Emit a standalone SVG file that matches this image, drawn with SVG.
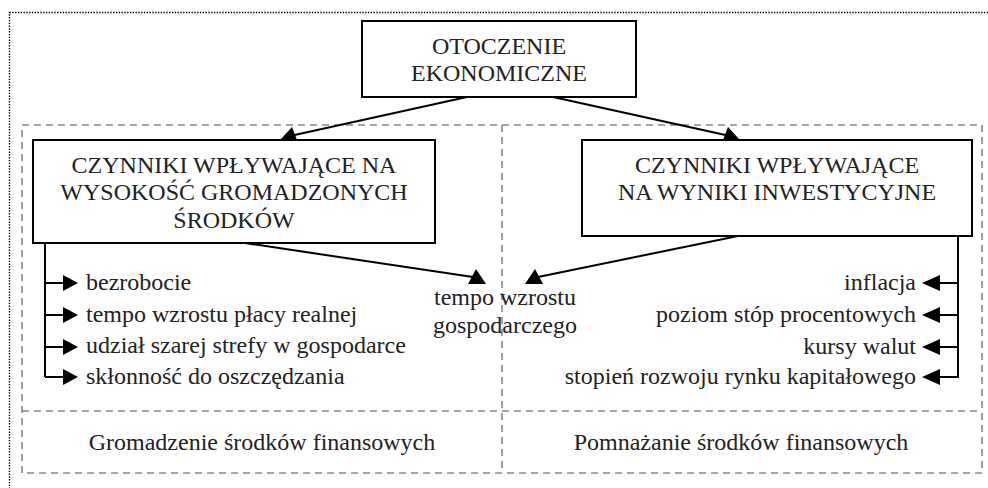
<svg xmlns="http://www.w3.org/2000/svg" width="988" height="488" viewBox="0 0 988 488">
<style>
text{font-family:"Liberation Serif","Times New Roman",serif;font-size:24px;fill:#222}
.box{fill:#fff;stroke:#000;stroke-width:2}
.dash{fill:none;stroke:#888;stroke-width:1.6;stroke-dasharray:7 5}
.dot{fill:none;stroke:#000;stroke-width:1.4;stroke-dasharray:1.4 1.4}
.ln{fill:none;stroke:#000;stroke-width:2}
.ah{fill:#000}
</style>
<rect class="dot" x="9.5" y="12.5" width="990" height="490"/>
<g id="frame">
<rect class="dash" x="22" y="125" width="960" height="348"/>
<line class="dash" x1="22" y1="411" x2="982" y2="411"/>
<line class="dash" x1="502" y1="125" x2="502" y2="473"/>
</g>
<g id="connectors">
<line class="ln" x1="467" y1="97" x2="290" y2="136"/>
<polygon class="ah" points="281,139 292,127 297,140"/>
<line class="ln" x1="553" y1="97" x2="730" y2="136"/>
<polygon class="ah" points="739,139 728,127 723,140"/>
<line class="ln" x1="245" y1="243" x2="473" y2="277"/>
<polygon class="ah" points="486,284 476,269 468,284"/>
<line class="ln" x1="738" y1="236" x2="538" y2="277"/>
<polygon class="ah" points="525,284 535,269 543,284"/>
<path class="ln" d="M45,243 V377 M45,283 H64 M45,315 H64 M45,347 H64 M45,377 H64"/>
<polygon class="ah" points="78,283 63,275 63,291"/>
<polygon class="ah" points="78,315 63,307 63,323"/>
<polygon class="ah" points="78,347 63,339 63,355"/>
<polygon class="ah" points="78,377 63,369 63,385"/>
<path class="ln" d="M958,236 V378 M958,283 H938 M958,315 H938 M958,347 H938 M958,377 H938"/>
<polygon class="ah" points="922,283 940,275 940,291"/>
<polygon class="ah" points="922,315 940,307 940,323"/>
<polygon class="ah" points="922,347 940,339 940,355"/>
<polygon class="ah" points="922,377 940,369 940,385"/>
</g>
<g id="otoczenie">
<rect class="box" x="362" y="21" width="274" height="76"/>
<text x="499" y="54" text-anchor="middle">OTOCZENIE</text>
<text x="499" y="81" text-anchor="middle">EKONOMICZNE</text>
</g>
<g id="czynniki-gromadzenie">
<rect class="box" x="33" y="140" width="402" height="103"/>
<text x="234" y="173" text-anchor="middle">CZYNNIKI WPŁYWAJĄCE NA</text>
<text x="234" y="200" text-anchor="middle">WYSOKOŚĆ GROMADZONYCH</text>
<text x="234" y="228" text-anchor="middle">ŚRODKÓW</text>
</g>
<g id="czynniki-inwestycje">
<rect class="box" x="582" y="140" width="390" height="96"/>
<text x="777" y="173" text-anchor="middle">CZYNNIKI WPŁYWAJĄCE</text>
<text x="777" y="200" text-anchor="middle">NA WYNIKI INWESTYCYJNE</text>
</g>
<g id="tempo-wzrostu">
<text x="505" y="305" text-anchor="middle">tempo wzrostu</text>
<text x="505" y="333" text-anchor="middle">gospodarczego</text>
</g>
<g id="lista-gromadzenie">
<text x="86" y="290">bezrobocie</text>
<text x="86" y="322">tempo wzrostu płacy realnej</text>
<text x="86" y="353">udział szarej strefy w gospodarce</text>
<text x="86" y="384">skłonność do oszczędzania</text>
</g>
<g id="lista-inwestycje">
<text x="916" y="290" text-anchor="end">inflacja</text>
<text x="916" y="322" text-anchor="end">poziom stóp procentowych</text>
<text x="916" y="354" text-anchor="end">kursy walut</text>
<text x="916" y="384" text-anchor="end">stopień rozwoju rynku kapitałowego</text>
</g>
<g id="label-gromadzenie">
<text x="262" y="450" text-anchor="middle">Gromadzenie środków finansowych</text>
</g>
<g id="label-pomnazanie">
<text x="741" y="450" text-anchor="middle">Pomnażanie środków finansowych</text>
</g>
</svg>
